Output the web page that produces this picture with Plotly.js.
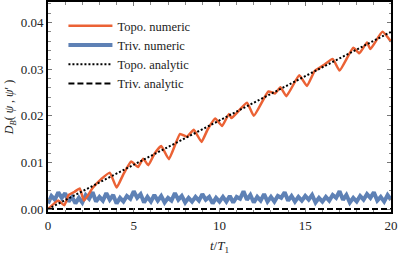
<!DOCTYPE html>
<html>
<head>
<meta charset="utf-8">
<script src="https://cdn.plot.ly/plotly-3.0.1.min.js"></script>
<style>html,body{margin:0;padding:0;background:#fff;}#chart{width:399px;height:255px;}</style>
</head>
<body>
<div id="chart"></div>
<script>
// Topological numeric (orange)
const topoX = [0, 0.3, 0.6, 0.95, 1.2, 1.55, 1.85, 2.1, 2.6, 3.1, 3.6, 4.0, 4.4, 4.85, 5.25, 5.55, 5.85, 6.2, 6.6, 7.05, 7.7, 8.1, 8.5, 8.95, 9.3, 9.75, 10.15, 10.55, 10.7, 11.6, 12.0, 12.85, 13.25, 13.55, 13.9, 14.65, 15.1, 15.55, 16.05, 16.6, 17.0, 17.8, 18.15, 18.6, 18.8, 19.5, 20];
const topoY = [0, 0.0010, 0.0018, 0.0008, 0.0030, 0.0037, 0.0044, 0.0018, 0.0045, 0.0064, 0.0078, 0.0046, 0.0075, 0.0102, 0.0090, 0.0108, 0.0094, 0.0118, 0.0135, 0.0107, 0.0161, 0.0155, 0.0170, 0.0144, 0.0170, 0.0194, 0.0178, 0.0204, 0.0195, 0.0228, 0.0200, 0.0252, 0.0248, 0.0261, 0.0242, 0.0287, 0.0264, 0.0296, 0.0308, 0.0322, 0.0297, 0.0346, 0.0334, 0.0357, 0.0343, 0.0380, 0.0359];

// Trivial numeric (blue), sampled every 0.2
const trivStep = 0.2;
const trivY = [0.0012,0.0028,0.0020,0.0036,0.0024,0.0034,0.0016,0.0026,0.0012,0.0024,
0.0014,0.0030,0.0022,0.0036,0.0016,0.0026,0.0018,0.0034,0.0020,0.0030,
0.0012,0.0024,0.0016,0.0028,0.0022,0.0038,0.0024,0.0032,0.0014,0.0026,
0.0016,0.0030,0.0018,0.0028,0.0014,0.0024,0.0018,0.0034,0.0020,0.0028,
0.0014,0.0024,0.0016,0.0026,0.0018,0.0032,0.0020,0.0026,0.0012,0.0024,
0.0016,0.0026,0.0016,0.0028,0.0014,0.0026,0.0022,0.0038,0.0020,0.0030,
0.0014,0.0026,0.0018,0.0032,0.0016,0.0026,0.0016,0.0028,0.0024,0.0036,
0.0018,0.0028,0.0016,0.0026,0.0018,0.0028,0.0020,0.0030,0.0014,0.0024,
0.0016,0.0026,0.0018,0.0030,0.0024,0.0038,0.0020,0.0030,0.0014,0.0024,
0.0016,0.0028,0.0020,0.0032,0.0024,0.0036,0.0018,0.0026,0.0016,0.0030,
0.0020];
const trivX = trivY.map((_, i) => +(i * trivStep).toFixed(2));

// Analytic lines
const anaX = [0, 20];
const topoAnaY = [0, 0.038];
const trivAnaY = [0, 0];

const names = ["Topo. numeric", "Triv. numeric", "Topo. analytic", "Triv. analytic"];
const xTicks = [0, 5, 10, 15, 20];
const yTicks = [0, 0.01, 0.02, 0.03, 0.04];
const yTickText = ["0.00", "0.01", "0.02", "0.03", "0.04"];

const serif = "Liberation Serif";

const traces = [
  {x: trivX, y: trivY, mode: "lines", name: names[1], legendrank: 2,
   line: {color: "#5E81B5", width: 4}},
  {x: topoX, y: topoY, mode: "lines", name: names[0], legendrank: 1,
   line: {color: "#EB6235", width: 2.5, shape: "spline", smoothing: 0.4}},
  {x: anaX, y: trivAnaY, mode: "lines", name: names[3], legendrank: 4,
   line: {color: "#000", width: 2, dash: "6px,3px"}},
  {x: anaX, y: topoAnaY, mode: "lines", name: names[2], legendrank: 3,
   line: {color: "#000", width: 2, dash: "2px,2px"}}
];

const axisCommon = {
  showgrid: false, zeroline: false, showline: true, linecolor: "#000", linewidth: 2,
  mirror: "allticks", ticks: "inside", ticklen: 4, tickwidth: 1, tickcolor: "#777",
  tickfont: {family: serif, size: 13, color: "#222"}
};

const layout = {
  width: 399, height: 255,
  margin: {l: 48, r: 8, t: 2, b: 43},
  paper_bgcolor: "#fff", plot_bgcolor: "#fff",
  font: {family: serif},
  showlegend: true,
  legend: {x: 0.045, y: 0.957, xanchor: "left", yanchor: "top", bgcolor: "rgba(255,255,255,0)",
           font: {family: serif, size: 12.5, color: "#222"}, itemwidth: 44, tracegroupgap: 0},
  xaxis: Object.assign({}, axisCommon, {
    range: [0, 20], tickvals: xTicks, ticktext: xTicks.map(String),
    minor: {dtick: 1, ticks: "inside", ticklen: 2.5, tickcolor: "#888"},
    title: {text: "<i>t</i>/<i>T</i><sub>1</sub>", font: {family: serif, size: 13, color: "#222"}, standoff: 10}
  }),
  yaxis: Object.assign({}, axisCommon, {
    range: [-0.00064, 0.0444], tickvals: yTicks, ticktext: yTickText,
    minor: {dtick: 0.002, ticks: "inside", ticklen: 2.5, tickcolor: "#888"},
    title: {text: "<i>D</i><sub><i>B</i></sub>( <i>ψ</i> , <i>ψ</i>′ )", font: {family: serif, size: 12, color: "#222"}, standoff: 4}
  })
};

Plotly.newPlot("chart", traces, layout, {displayModeBar: false, staticPlot: true});
</script>
</body>
</html>
